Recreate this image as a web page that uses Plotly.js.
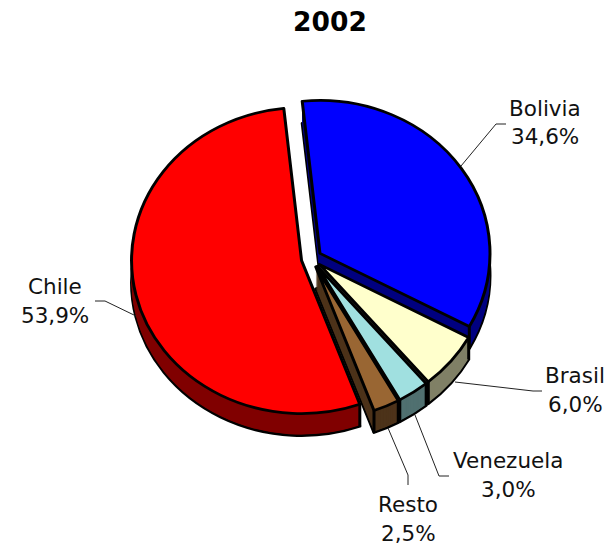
<!DOCTYPE html>
<html>
<head>
<meta charset="utf-8">
<script src="https://cdn.plot.ly/plotly-3.0.1.min.js"></script>
<style>html,body{margin:0;padding:0;background:#fff}#chart{width:610px;height:545px}</style>
</head>
<body>
<div id="chart"></div>
<script>
const categories = ['Bolivia', 'Brasil', 'Venezuela', 'Resto', 'Chile'];
const shares = [34.6, 6.0, 3.0, 2.5, 53.9];
const topColors = ['#0000ff', '#ffffcc', '#a0e0e0', '#996633', '#ff0000'];
const sideColors = ['#000080', '#808066', '#507070', '#4d331a', '#800000'];

const W = 610, H = 545;
const cx = 311.5, cy = 258.5;  // pie centre on the page
const radius = 170;
const squash = 0.9;            // vertical foreshortening of the disc
const depth = 22;              // height of the extruded wall
const pull = 0.06;
const rotation = -6;
const edge = 3;

function pieTrace(shift, colors, lineWidth) {
  const half = radius * (1 + pull);
  const yc = cy + shift / squash;
  return {
    type: 'pie',
    labels: categories,
    values: shares,
    sort: false,
    direction: 'clockwise',
    rotation: rotation,
    pull: pull,
    textinfo: 'none',
    hoverinfo: 'skip',
    showlegend: false,
    marker: {colors: colors, line: {color: '#000', width: lineWidth}},
    domain: {
      x: [(cx - half) / W, (cx + half) / W],
      y: [1 - (yc + half) / H, 1 - (yc - half) / H]
    }
  };
}

// Stack of dark discs for the wall, deepest first, with the coloured disc on top
const traces = [];
for (let d = depth; d >= 1; d--) {
  traces.push(pieTrace(d, sideColors, d === depth ? edge : 0));
}
traces.push(pieTrace(0, topColors, edge));

const px = x => x / W;
const py = y => 1 - y / H;
function polyline(points, width) {
  return {
    type: 'path', xref: 'paper', yref: 'paper',
    path: points.map((p, i) => (i ? 'L' : 'M') + px(p[0]) + ' ' + py(p[1])).join(' '),
    line: {color: '#222', width: width}
  };
}

// Vertical wall edges at the slice boundaries facing the viewer
const total = shares.reduce((a, b) => a + b, 0);
const shapes = [];
let start = rotation;
shares.forEach((v, i) => {
  const sweep = v / total * 360;
  const mid = (start + sweep / 2) * Math.PI / 180;
  const ox = pull * radius * Math.sin(mid);
  const oy = -pull * radius * Math.cos(mid);
  [start, start + sweep].forEach(deg => {
    if (deg < 100 || deg > 175) return;
    const a = deg * Math.PI / 180;
    const x = cx + ox + radius * Math.sin(a);
    const y = cy + squash * (oy - radius * Math.cos(a));
    const s = polyline([[x, y], [x, y + depth]], edge);
    s.line.color = '#000';
    shapes.push(s);
  });
  start += sweep;
});

// Leader lines from the labels to their slices
[
  [[461, 166], [496, 124], [506, 124]],
  [[136, 316], [105, 301], [95, 301]],
  [[455, 382], [533, 391], [542, 391]],
  [[415, 415], [439, 476], [449, 476]],
  [[388, 428], [408, 475], [408, 485]]
].forEach(pts => shapes.push(polyline(pts, 1)));

// Two-line category labels: name above, share below
const labelCentres = [[545, 108], [575, 375], [508, 460], [408, 504], [55, 286]];
const annotations = [];
categories.forEach((name, i) => {
  const [x, y] = labelCentres[i];
  const share = shares[i].toFixed(1).replace('.', ',') + '%';
  [name, share].forEach((text, k) => {
    annotations.push({
      text: text, x: px(x), y: py(y + k * 29), xref: 'paper', yref: 'paper',
      xanchor: 'center', yanchor: 'middle', showarrow: false,
      font: {family: 'DejaVu Sans', size: 21.5, color: '#111'}
    });
  });
});

const layout = {
  width: W, height: H,
  margin: {l: 0, r: 0, t: 0, b: 0},
  paper_bgcolor: '#fff',
  title: {
    text: '<b>2002</b>', x: 330 / W, y: py(22),
    xref: 'paper', yref: 'paper', xanchor: 'center', yanchor: 'middle',
    font: {family: 'DejaVu Sans', size: 26.5, color: '#000'}
  },
  shapes: shapes,
  annotations: annotations
};

Plotly.newPlot('chart', traces, layout, {displayModeBar: false, staticPlot: true}).then(gd => {
  // Tilt the discs by flattening the pie layer around the pie centre
  gd.querySelector('.pielayer').setAttribute(
    'transform', `translate(0 ${cy * (1 - squash)}) scale(1 ${squash})`
  );
});
</script>
</body>
</html>
